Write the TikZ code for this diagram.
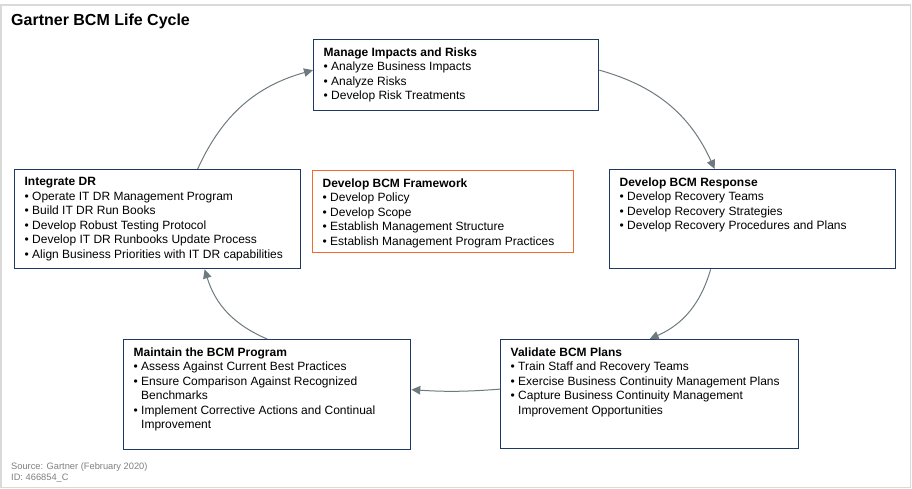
\documentclass[tikz,border=0pt]{standalone}
\usepackage{fontspec}
\setmainfont{Liberation Sans}
\usepackage{xcolor}
\usepackage{tikz}
\usetikzlibrary{arrows.meta, positioning}

\definecolor{navy}{HTML}{1F3864}
\definecolor{flame}{HTML}{F26A2E}
\definecolor{cyclegray}{HTML}{6D7A7E}
\definecolor{framegray}{HTML}{DADADA}
\definecolor{notegray}{HTML}{7F7F7F}

%% Box body: width, height, heading, items
\newcommand{\phasebody}[4]{%
  \begin{minipage}[t][#2][t]{#1}\raggedright\hyphenpenalty=10000
    \textbf{#3}#4\end{minipage}}
\newcommand{\itm}[1]{\par\hangindent=0.63em\hangafter=1
  \makebox[0.63em][l]{\textbullet}#1}

\tikzset{
  %% Phase box
  phase/.style={
    rectangle, draw=#1, anchor=north west,
    inner xsep=10pt, inner ysep=8pt, line width=1.3pt,
    font=\fontsize{12}{14.5}\selectfont
  },
  phase/.default=navy,
  %% Cycle arrow
  cyc/.style={-{Triangle[length=9pt,width=8.5pt]},
              draw=cyclegray, line width=1pt, bend left=25},
  %% Plain text
  note/.style={anchor=base west, inner sep=0pt},
}

\begin{document}
\begin{tikzpicture}[x=1pt, y=-1pt]

  \useasboundingbox (0,0) rectangle (912,489);
  \draw[framegray, line width=1.5pt] (1,5) rectangle (910.5,487.5);

  %% Heading
  \node[note, font=\fontsize{16}{19}\selectfont\bfseries] (title)
    at (11,25.7) {Gartner BCM Life Cycle};

  %% Phases
  \node[phase] (impacts) at (313,39)
    {\phasebody{265pt}{55pt}{Manage Impacts and Risks}{%
     \itm{Analyze Business Impacts}
     \itm{Analyze Risks}
     \itm{Develop Risk Treatments}}};

  \node[phase] (response) at (609,169)
    {\phasebody{266pt}{83pt}{Develop BCM Response}{%
     \itm{Develop Recovery Teams}
     \itm{Develop Recovery Strategies}
     \itm{Develop Recovery Procedures and Plans}}};

  \node[phase] (validate) at (500,339)
    {\phasebody{278pt}{93pt}{Validate BCM Plans}{%
     \itm{Train Staff and Recovery Teams}
     \itm{Exercise Business Continuity Management Plans}
     \itm{Capture Business Continuity Management\newline
          Improvement Opportunities}}};

  \node[phase] (maintain) at (123,339)
    {\phasebody{267pt}{94pt}{Maintain the BCM Program}{%
     \itm{Assess Against Current Best Practices}
     \itm{Ensure Comparison Against Recognized\newline Benchmarks}
     \itm{Implement Corrective Actions and Continual\newline Improvement}}};

  \node[phase] (integrate) at (14,169)
    {\phasebody{266pt}{83pt}{Integrate DR}{%
     \itm{Operate IT DR Management Program}
     \itm{Build IT DR Run Books}
     \itm{Develop Robust Testing Protocol}
     \itm{Develop IT DR Runbooks Update Process}
     \itm{Align Business Priorities with IT DR capabilities}}};

  %% Framework in the middle
  \node[phase=flame] (framework) at (312,170)
    {\phasebody{241pt}{66pt}{Develop BCM Framework}{%
     \itm{Develop Policy}
     \itm{Develop Scope}
     \itm{Establish Management Structure}
     \itm{Establish Management Program Practices}}};

  %% Cycle
  \draw[cyc] ([yshift=5pt]impacts.east) to ([xshift=-38pt]response.north);
  \draw[cyc] ([xshift=-42pt]response.south) to (validate.north);
  \draw[cyc, bend left=4] ([yshift=5pt]validate.west)
    to ([yshift=5pt]maintain.east);
  \draw[cyc] (maintain.north) to ([xshift=47pt]integrate.south);
  \draw[cyc] ([xshift=40pt]integrate.north) to ([yshift=5pt]impacts.west);

  %% Footer
  \node[note, font=\fontsize{9.3}{11}\selectfont, text=notegray] (source)
    at (11,469) {Source: Gartner (February 2020)};
  \node[note, font=\fontsize{9.3}{11}\selectfont, text=notegray] (docid)
    at (11,480) {ID: 466854\_C};

\end{tikzpicture}
\end{document}
